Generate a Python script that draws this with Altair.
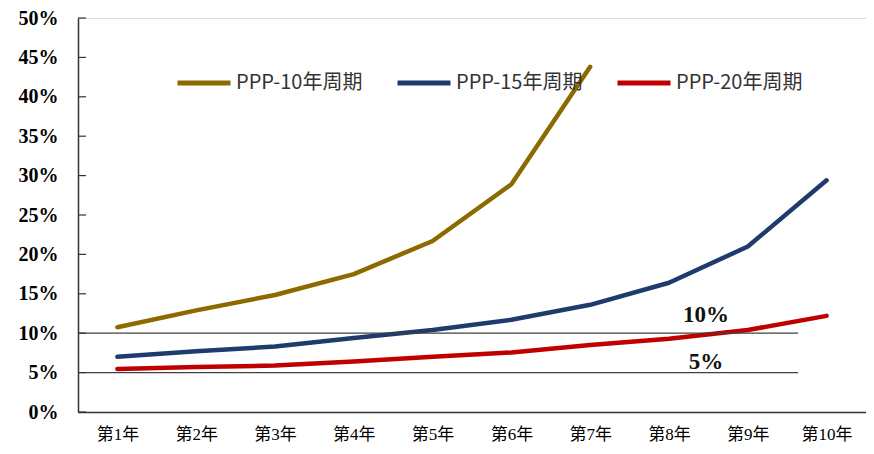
import altair as alt
import pandas as pd

years = ["第1年", "第2年", "第3年", "第4年", "第5年", "第6年", "第7年", "第8年", "第9年", "第10年"]
series_names = ["PPP-10年周期", "PPP-15年周期", "PPP-20年周期"]
ppp10 = [0.1075, 0.129, 0.1485, 0.175, 0.217, 0.289, 0.438]
ppp15 = [0.070, 0.077, 0.083, 0.094, 0.104, 0.117, 0.136, 0.164, 0.210, 0.294]
ppp20 = [0.0545, 0.057, 0.059, 0.064, 0.070, 0.0755, 0.085, 0.093, 0.104, 0.122]
colors = ["#8C6A00", "#1F3B6E", "#C00000"]
ref_lines = [0.10, 0.05]
ref_labels = ["10%", "5%"]
ref_label_y = [0.123, 0.0635]
tick_vals = [0.0, 0.05, 0.10, 0.15, 0.20, 0.25, 0.30, 0.35, 0.40, 0.45, 0.50]

rows = []
for name, vals in zip(series_names, [ppp10, ppp15, ppp20]):
    for yr, v in zip(years, vals):
        rows.append({"year": yr, "series": name, "value": v})
df = pd.DataFrame(rows)

xscale = alt.Scale(type="point", domain=years, padding=0.5)
yscale = alt.Scale(domain=[0, 0.5], nice=False, zero=True)

serif = "Liberation Serif, Times New Roman, Noto Sans CJK SC"

y_axis = alt.Axis(title=None, values=tick_vals, format=".0%", ticks=False, grid=False,
                  labelOverlap=False, labelFont=serif, labelFontSize=20,
                  labelFontWeight="bold", labelColor="#000", labelPadding=20,
                  domainColor="#333333", domainWidth=1.5)

lines = alt.Chart(df).mark_line(strokeWidth=4.5, interpolate="linear", strokeCap="round",
                                strokeJoin="round").encode(
    x=alt.X("year:N", scale=xscale, sort=years,
            axis=alt.Axis(title=None, labelAngle=0, ticks=False, labelFont=serif,
                          labelFontSize=17, labelColor="#000", labelPadding=14,
                          domainColor="#333333", domainWidth=1.5)),
    y=alt.Y("value:Q", scale=yscale, axis=y_axis),
    color=alt.Color("series:N", scale=alt.Scale(domain=series_names, range=colors),
                    sort=series_names,
                    legend=alt.Legend(title=None, orient="none", legendX=97, legendY=36,
                                      direction="horizontal", symbolType="stroke",
                                      symbolStrokeWidth=5, symbolSize=2809,
                                      labelFont="Noto Sans CJK SC", labelFontSize=20,
                                      labelColor="#333", columnPadding=24, labelOffset=3,
                                      labelLimit=300)),
)

ref_df = pd.DataFrame({"v": ref_lines})
rules = alt.Chart(ref_df).mark_rule(color="#404040", strokeWidth=1.2).encode(
    y=alt.Y("v:Q", scale=yscale, axis=y_axis), x=alt.value(0), x2=alt.value(720)
)

tick_df = pd.DataFrame({"t": tick_vals})
ticks = alt.Chart(tick_df).mark_rule(color="#333333", strokeWidth=1.2).encode(
    y=alt.Y("t:Q", scale=yscale, axis=y_axis), x=alt.value(0), x2=alt.value(8)
)

lab_df = pd.DataFrame({"label": ref_labels, "y": ref_label_y})
labels = alt.Chart(lab_df).mark_text(font=serif, fontSize=23, fontWeight="bold",
                                     color="#111", align="center", baseline="middle").encode(
    y=alt.Y("y:Q", scale=yscale, axis=y_axis), x=alt.value(628), text="label:N"
)

chart = alt.layer(lines, rules, ticks, labels).properties(
    width=788, height=394,
    autosize=alt.AutoSizeParams(type="none"),
    padding={"left": 70, "top": 10, "right": 0, "bottom": 34},
).configure_view(stroke=None).configure(background="white")

chart.save("out.html", embed_options={"renderer": "svg", "actions": False})
